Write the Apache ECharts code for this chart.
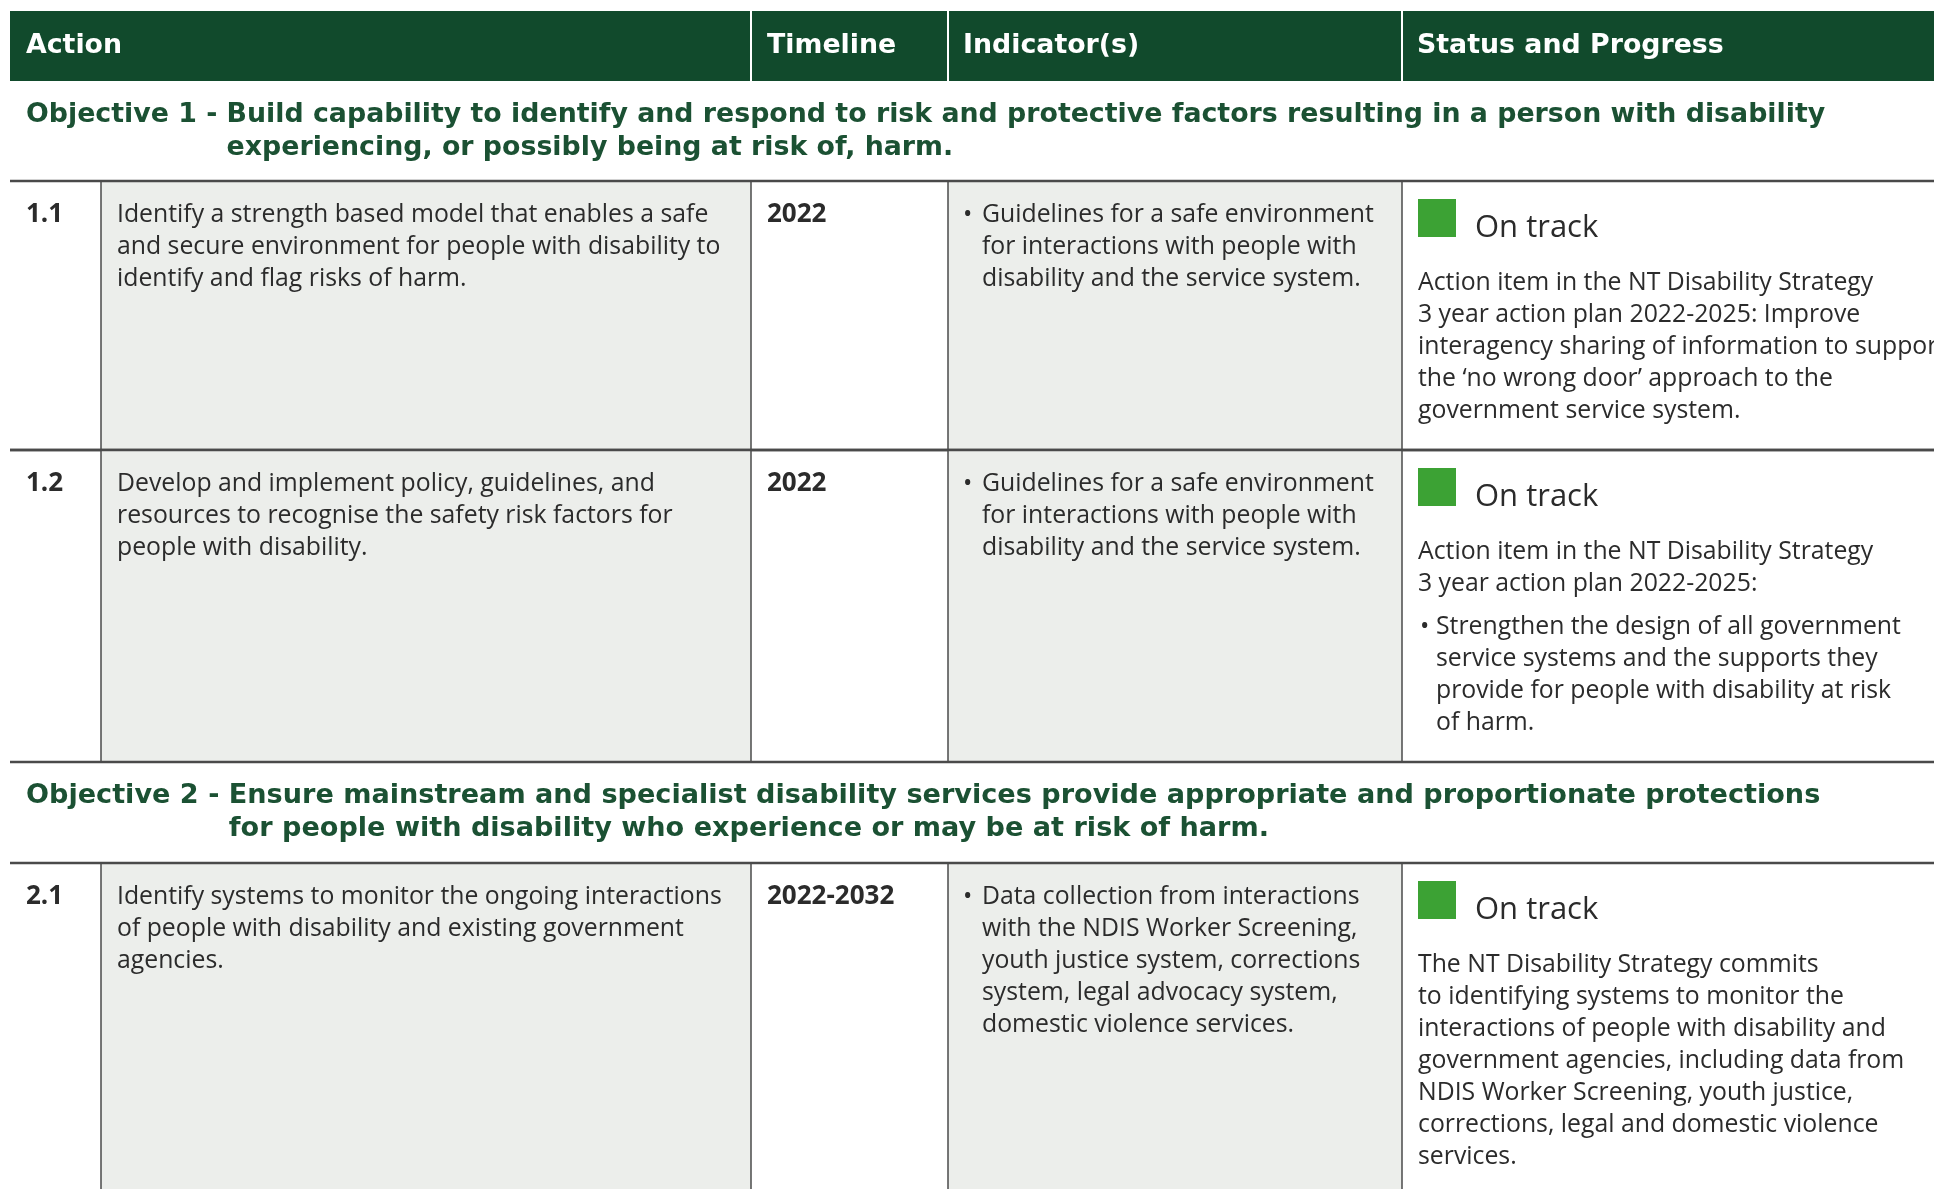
<!DOCTYPE html>
<html>
<head>
<meta charset="utf-8">
<script src="https://cdn.jsdelivr.net/npm/echarts@6/dist/echarts.min.js"></script>
<style>
html,body{margin:0;padding:0;background:#ffffff;}
#chart{width:1934px;height:1189px;}
</style>
</head>
<body>
<div id="chart"></div>
<script>
// ---------- DATA ----------
const headers = ['Action', 'Timeline', 'Indicator(s)', 'Status and Progress'];

const objectivePrefixes = ['Objective 1 - ', 'Objective 2 - '];
const objectiveLines = [
  ['Build capability to identify and respond to risk and protective factors resulting in a person with disability',
   'experiencing, or possibly being at risk of, harm.'],
  ['Ensure mainstream and specialist disability services provide appropriate and proportionate protections',
   'for people with disability who experience or may be at risk of harm.']
];

const actionIds = ['1.1', '1.2', '2.1'];
const actionTexts = [
  ['Identify a strength based model that enables a safe',
   'and secure environment for people with disability to',
   'identify and flag risks of harm.'],
  ['Develop and implement policy, guidelines, and',
   'resources to recognise the safety risk factors for',
   'people with disability.'],
  ['Identify systems to monitor the ongoing interactions',
   'of people with disability and existing government',
   'agencies.']
];
const timelines = ['2022', '2022', '2022-2032'];
const indicators = [
  ['Guidelines for a safe environment',
   'for interactions with people with',
   'disability and the service system.'],
  ['Guidelines for a safe environment',
   'for interactions with people with',
   'disability and the service system.'],
  ['Data collection from interactions',
   'with the NDIS Worker Screening,',
   'youth justice system, corrections',
   'system, legal advocacy system,',
   'domestic violence services.']
];
const statuses = ['On track', 'On track', 'On track'];
const statusNotes = [
  ['Action item in the NT Disability Strategy',
   '3 year action plan 2022-2025: Improve',
   'interagency sharing of information to support',
   'the \u2018no wrong door\u2019 approach to the',
   'government service system.'],
  ['Action item in the NT Disability Strategy',
   '3 year action plan 2022-2025:'],
  ['The NT Disability Strategy commits',
   'to identifying systems to monitor the',
   'interactions of people with disability and',
   'government agencies, including data from',
   'NDIS Worker Screening, youth justice,',
   'corrections, legal and domestic violence',
   'services.']
];
const statusBullets = [
  [],
  ['Strengthen the design of all government',
   'service systems and the supports they',
   'provide for people with disability at risk',
   'of harm.'],
  []
];

// Block sequence of the table: header, objective, action rows
const blocks = [
  {kind: 'header'},
  {kind: 'objective', idx: 0},
  {kind: 'action', idx: 0},
  {kind: 'action', idx: 1},
  {kind: 'objective', idx: 1},
  {kind: 'action', idx: 2}
];

// ---------- LAYOUT ----------
const L = {
  cols: [10, 101, 751, 948, 1402, 1934],
  blockTop: [11, 81, 181, 450, 762, 863],
  blockBottom: [81, 181, 450, 762, 863, 1189],
  lineH: 32
};
const C = {
  headBg: '#114a2c',
  objText: '#1b5133',
  body: '#2b2b2b',
  gray: '#eceeeb',
  rule: '#4a4a4a',
  green: '#3ca234'
};
const HEAD_FONT = 'DejaVu Sans';
const BODY_FONT = 'Open Sans';
const OBJ_SIZE = [26.8, 27.1];
const BODY_SIZE = 24.8;

const measureCtx = document.createElement('canvas').getContext('2d');
function textWidth(str, font) { measureCtx.font = font; return measureCtx.measureText(str).width; }

function txt(p, str, opts) {
  return {
    type: 'text',
    style: Object.assign({
      text: str, x: p[0], y: p[1],
      align: 'left', verticalAlign: 'middle'
    }, opts)
  };
}
function multiline(api, x, yFirst, lines, opts) {
  const p = api.coord([x, yFirst - L.lineH / 2]);
  return {
    type: 'text',
    style: Object.assign({
      text: lines.join('\n'), x: p[0], y: p[1],
      align: 'left', verticalAlign: 'top', lineHeight: L.lineH
    }, opts)
  };
}
function rect(api, x0, y0, x1, y1, fill) {
  const a = api.coord([x0, y0]), b = api.coord([x1, y1]);
  return {type: 'rect', shape: {x: a[0], y: a[1], width: b[0] - a[0], height: b[1] - a[1]}, style: {fill: fill}};
}
function line(api, x0, y0, x1, y1, color, w) {
  const a = api.coord([x0, y0]), b = api.coord([x1, y1]);
  return {type: 'line', shape: {x1: a[0], y1: a[1], x2: b[0], y2: b[1]}, style: {stroke: color, lineWidth: w}};
}

function renderItem(params, api) {
  const bi = api.value(0);
  const b = blocks[bi];
  const top = L.blockTop[bi], bot = L.blockBottom[bi];
  const cols = L.cols;
  const children = [];
  const bodyStyle = {fontFamily: BODY_FONT, fontSize: BODY_SIZE, fill: C.body};
  const boldStyle = {fontFamily: BODY_FONT, fontSize: 26, fontWeight: 700, fill: C.body};

  if (b.kind === 'header') {
    children.push(rect(api, cols[0], top, cols[5], bot, C.headBg));
    [cols[2], cols[3], cols[4]].forEach(x => children.push(line(api, x, top, x, bot, '#ffffff', 2)));
    const hx = [26, 767, 963, 1417];
    headers.forEach((h, i) => children.push(txt(api.coord([hx[i], top + 35]), h,
      {fontFamily: HEAD_FONT, fontWeight: 700, fontSize: 26.8, fill: '#ffffff'})));
  } else if (b.kind === 'objective') {
    const size = OBJ_SIZE[b.idx];
    const font = '700 ' + size + 'px "' + HEAD_FONT + '"';
    const pre = objectivePrefixes[b.idx];
    const w = textWidth(pre, font);
    const st = {fontFamily: HEAD_FONT, fontWeight: 700, fontSize: size, fill: C.objText};
    children.push(txt(api.coord([26, top + 34]), pre, st));
    children.push(txt(api.coord([26 + w, top + 34]), objectiveLines[b.idx][0], st));
    children.push(txt(api.coord([26 + w, top + 67]), objectiveLines[b.idx][1], st));
  } else {
    const i = b.idx;
    children.push(rect(api, cols[1], top, cols[2], bot, C.gray));
    children.push(rect(api, cols[3], top, cols[4], bot, C.gray));
    [cols[1], cols[2], cols[3], cols[4]].forEach(x => children.push(line(api, x, top, x, bot, C.rule, 1.5)));
    children.push(line(api, cols[0], top, cols[5], top, C.rule, 2.5));
    if (bi + 1 < blocks.length) children.push(line(api, cols[0], bot, cols[5], bot, C.rule, 2.5));
    const y1 = top + 34;
    children.push(txt(api.coord([26, y1]), actionIds[i], boldStyle));
    children.push(multiline(api, 117, y1, actionTexts[i], bodyStyle));
    children.push(txt(api.coord([767, y1]), timelines[i], boldStyle));
    indicators[i].length && children.push(txt(api.coord([963, y1]), '\u2022', bodyStyle));
    children.push(multiline(api, 982, y1, indicators[i], bodyStyle));
    // status
    children.push(rect(api, 1418, top + 18, 1456, top + 56, C.green));
    children.push(txt(api.coord([1475, top + 47]), statuses[i], {fontFamily: BODY_FONT, fontSize: 31, fill: C.body}));
    const ny = top + 102;
    children.push(multiline(api, 1418, ny, statusNotes[i], bodyStyle));
    if (statusBullets[i].length) {
      const by = ny + statusNotes[i].length * L.lineH + 11;
      children.push(txt(api.coord([1420, by]), '\u2022', bodyStyle));
      children.push(multiline(api, 1436, by, statusBullets[i], bodyStyle));
    }
  }
  return {type: 'group', children: children};
}

const chart = echarts.init(document.getElementById('chart'), null, {renderer: 'canvas'});
chart.setOption({
  animation: false,
  backgroundColor: '#ffffff',
  grid: {left: 0, right: 0, top: 0, bottom: 0},
  xAxis: {type: 'value', min: 0, max: 1934, show: false},
  yAxis: {type: 'value', min: 0, max: 1189, inverse: true, show: false},
  series: [{
    type: 'custom',
    renderItem: renderItem,
    clip: false,
    data: blocks.map((b, i) => [i])
  }]
});
</script>
</body>
</html>
